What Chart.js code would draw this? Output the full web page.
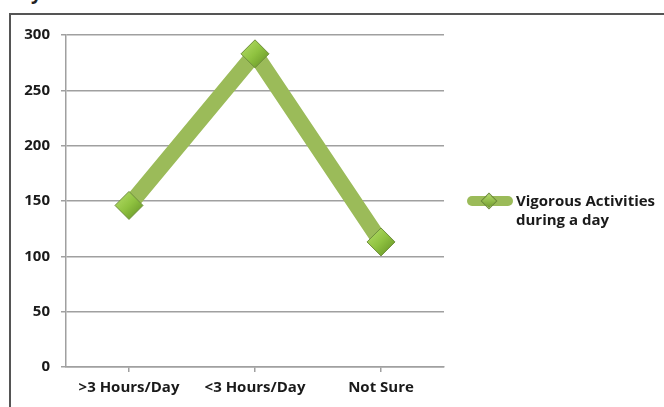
<!DOCTYPE html>
<html>
<head>
<meta charset="utf-8">
<script src="https://cdn.jsdelivr.net/npm/chart.js@4/dist/chart.umd.min.js"></script>
<style>
  html, body { margin: 0; padding: 0; background: #fff; }
  #wrap { position: relative; width: 664px; height: 407px; overflow: hidden; }
  #frame { position: absolute; left: 9px; top: 13px; width: 700px; height: 450px; border: 2px solid #555; box-sizing: border-box; }
  #cut { position: absolute; left: 31px; top: -21px; font: bold 19px "Open Sans", sans-serif; color: #222; }
  #legend { position: absolute; left: 467px; top: 191px; font: bold 15px "Open Sans", sans-serif; color: #1a1a1a; }
  #legend .sw { position: absolute; left: 0; top: 5px; width: 46px; height: 10px; background: #9BBB59; border-radius: 5px; }
  #legend .dm { position: absolute; left: 16px; top: -1px; width: 12px; height: 12px; transform: rotate(45deg); background: linear-gradient(135deg, #b5dc6a, #6e9a2c); border: 1px solid #6a8a35; box-sizing: border-box; }
  #legend .tx { position: absolute; left: 49px; top: 0; line-height: 19px; white-space: nowrap; }
  canvas { position: absolute; left: 0; top: 0; }
</style>
</head>
<body>
<div id="wrap">
  <div id="frame"></div>
  <div id="cut">y</div>
  <canvas id="c" width="664" height="407"></canvas>
  <div id="legend"><div class="sw"><div class="dm"></div></div><div class="tx" id="legtx"></div></div>
</div>
<script>
const categories = [">3 Hours/Day", "<3 Hours/Day", "Not Sure"];
const seriesLabel = ["Vigorous Activities", "during a day"];
const values = [146, 283, 113];
const yTicks = [0, 50, 100, 150, 200, 250, 300];

document.getElementById('legtx').innerHTML = seriesLabel.join('<br>');

const FONT = '"Open Sans", sans-serif';

function diamondFill(ctx) {
  const c = ctx.chart.ctx;
  const el = ctx.element;
  if (!el || el.y === undefined) return '#8cbf3f';
  const g = c.createLinearGradient(el.x - 14, el.y - 14, el.x + 14, el.y + 14);
  g.addColorStop(0, '#b8df6c');
  g.addColorStop(0.5, '#8fc240');
  g.addColorStop(1, '#5f8c22');
  return g;
}

new Chart(document.getElementById('c'), {
  type: 'line',
  data: {
    labels: categories,
    datasets: [{
      label: seriesLabel.join(' '),
      data: values,
      borderColor: '#9BBB59',
      borderWidth: 16,
      tension: 0,
      fill: false,
      pointStyle: 'rectRot',
      pointRadius: 14,
      pointHoverRadius: 14,
      pointBackgroundColor: diamondFill,
      pointBorderColor: '#6f8f3d',
      pointBorderWidth: 1
    }]
  },
  options: {
    responsive: false,
    animation: false,
    events: [],
    layout: { padding: { left: 10, top: 35, right: 220, bottom: 0 } },
    plugins: { legend: { display: false }, tooltip: { enabled: false } },
    scales: {
      x: {
        offset: true,
        grid: { display: true, drawOnChartArea: false, drawTicks: true, tickLength: 5, color: '#a0a0a0', lineWidth: 1.5 },
        border: { color: '#a0a0a0', width: 1.5 },
        ticks: { color: '#1a1a1a', font: { family: FONT, size: 15, weight: 'bold' }, padding: 7, maxRotation: 0 },
        afterFit: s => { s.height = 40; }
      },
      y: {
        min: 0, max: 300,
        afterBuildTicks: s => { s.ticks = yTicks.map(v => ({ value: v })); },
        grid: { color: '#a0a0a0', lineWidth: 1.5, tickLength: 5 },
        border: { color: '#a0a0a0', width: 1.5 },
        ticks: { color: '#1a1a1a', font: { family: FONT, size: 15, weight: 'bold' }, padding: 11 },
        afterFit: s => { s.width = 56; }
      }
    }
  }
});
</script>
</body>
</html>
